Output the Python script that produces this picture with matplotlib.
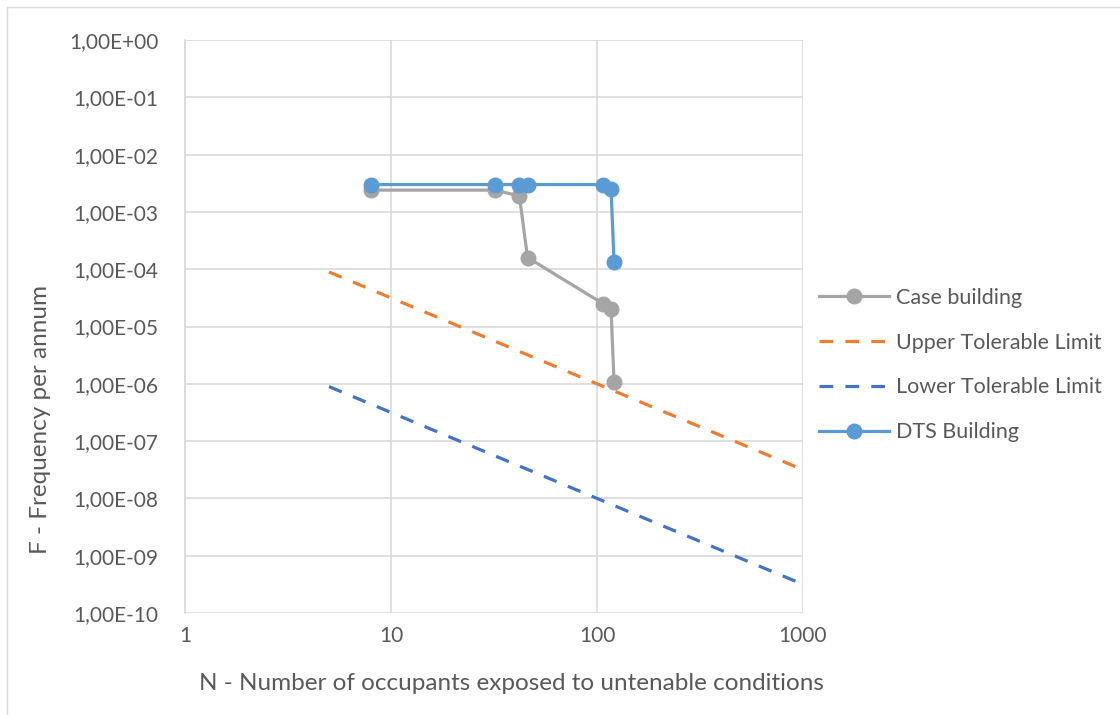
import matplotlib
matplotlib.use("Agg")
import matplotlib.pyplot as plt
from matplotlib.ticker import FixedLocator, FuncFormatter, NullLocator
from matplotlib.patches import Rectangle

plt.rcParams['font.family'] = ['Lato', 'DejaVu Sans']

# Data
case_n = [8, 32, 42, 46, 107, 117, 121]
case_f = [2.4e-3, 2.4e-3, 1.9e-3, 1.6e-4, 2.5e-5, 2.0e-5, 1.07e-6]
dts_n = [8, 32, 42, 46, 107, 117, 121]
dts_f = [3.0e-3, 3.0e-3, 3.0e-3, 3.0e-3, 3.0e-3, 2.5e-3, 1.34e-4]
limit_n = [5, 1000]
upper_f = [8.94e-5, 3.16e-8]
lower_f = [8.94e-7, 3.16e-10]
x_ticks = [1, 10, 100, 1000]
y_ticks = [1e0, 1e-1, 1e-2, 1e-3, 1e-4, 1e-5, 1e-6, 1e-7, 1e-8, 1e-9, 1e-10]

W, H = 1120, 715
fig = plt.figure(figsize=(W / 100, H / 100), dpi=100)
ax = fig.add_axes([185 / W, 1 - 613 / H, (803 - 185) / W, (613 - 40) / H])

# outer chart border
fig.patches.append(Rectangle((7 / W, -0.1), 1.2, 1 - 7 / H + 0.1, transform=fig.transFigure,
                             fill=False, edgecolor='#d9d9d9', linewidth=1.0))

ax.set_xscale('log')
ax.set_yscale('log')
ax.set_xlim(1, 1000)
ax.set_ylim(1e-10, 1e0)

grid_c = '#d9d9d9'
ax.xaxis.set_major_locator(FixedLocator(x_ticks))
ax.xaxis.set_minor_locator(NullLocator())
ax.yaxis.set_major_locator(FixedLocator(y_ticks))
ax.yaxis.set_minor_locator(NullLocator())
ax.xaxis.set_major_formatter(FuncFormatter(lambda v, p: f"{int(round(v))}"))


def yfmt(v, p):
    s = f"{v:.2E}"
    mant, exp = s.split('E')
    e = int(exp)
    sign = '+' if e >= 0 else '-'
    return f"{mant.replace('.', ',')}E{sign}{abs(e):02d}"


ax.yaxis.set_major_formatter(FuncFormatter(yfmt))
ax.grid(True, which='major', color=grid_c, linewidth=1.2)
ax.set_axisbelow(True)
for s in ['top', 'right', 'bottom']:
    ax.spines[s].set_visible(False)
ax.spines['left'].set_color(grid_c)
ax.spines['left'].set_linewidth(1.2)
ax.tick_params(length=0, labelsize=15, labelcolor='#595959')
ax.tick_params(axis='y', pad=19)
ax.tick_params(axis='x', pad=9)

ax.plot(case_n, case_f, color='#A5A5A5', linewidth=2.3, marker='o', markersize=10.5,
        label='Case building', zorder=3)
ax.plot(limit_n, upper_f, color='#ED7D31', linewidth=2.3, linestyle=(0, (4.3, 3.8)),
        label='Upper Tolerable Limit', zorder=2)
ax.plot(limit_n, lower_f, color='#4472C4', linewidth=2.3, linestyle=(0, (4.3, 3.8)),
        label='Lower Tolerable Limit', zorder=2)
ax.plot(dts_n, dts_f, color='#5B9BD5', linewidth=2.3, marker='o', markersize=10.5,
        label='DTS Building', zorder=4)

fig.text(511 / W, 1 - 683 / H, 'N - Number of occupants exposed to untenable conditions',
         fontsize=17.5, color='#595959', ha='center', va='center')
fig.text(41 / W, 1 - 420 / H, 'F - Frequency per annum', fontsize=17.5, color='#595959',
         ha='center', va='center', rotation=90)

leg = ax.legend(loc='center left', bbox_to_anchor=(800 / W, 1 - 365 / H),
                bbox_transform=fig.transFigure, frameon=False, fontsize=15.5,
                labelcolor='#595959', handlelength=3.25, handletextpad=0.3,
                labelspacing=1.15)

fig.savefig('out.png', dpi=100)
